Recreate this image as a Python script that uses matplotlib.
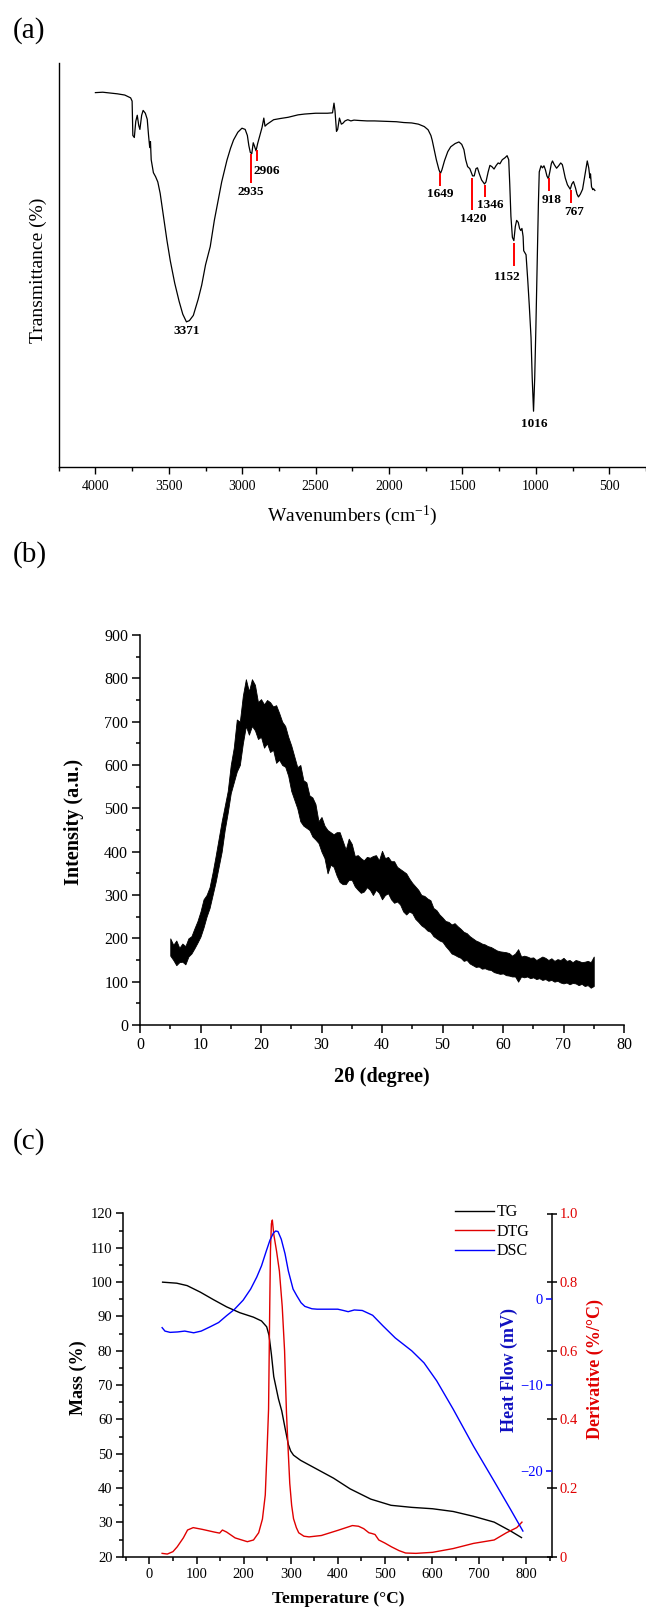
import matplotlib
matplotlib.use('Agg')
import numpy as np
import matplotlib.pyplot as plt
from matplotlib.ticker import MultipleLocator, FuncFormatter

plt.rcParams['font.family'] = ['Liberation Serif', 'DejaVu Serif']
plt.rcParams['mathtext.fontset'] = 'custom'
plt.rcParams['mathtext.rm'] = 'Liberation Serif'
plt.rcParams['mathtext.it'] = 'Liberation Serif:italic'
plt.rcParams['mathtext.bf'] = 'Liberation Serif:bold'

# ---- (a) FTIR spectrum ----
ftir_wn = [4000, 3950, 3900, 3850, 3800, 3760, 3750, 3745, 3735, 3725, 3715, 3705, 3697, 3685, 3675,
           3660, 3647, 3638, 3630, 3625, 3620, 3605, 3590, 3575, 3559, 3536, 3513, 3490, 3460, 3430,
           3405, 3380, 3360, 3333, 3300, 3276, 3250, 3218, 3190, 3172, 3140, 3104, 3080, 3059, 3030,
           3002, 2980, 2965, 2955, 2945, 2935, 2925, 2918, 2906, 2895, 2884, 2865, 2853, 2845, 2830,
           2786, 2740, 2687, 2620, 2575, 2500, 2420, 2385, 2375, 2368, 2358, 2350, 2338, 2325, 2315,
           2300, 2281, 2260, 2239, 2200, 2150, 2100, 2014, 1950, 1900, 1846, 1800, 1760, 1734, 1715,
           1706, 1690, 1678, 1660, 1650, 1640, 1622, 1600, 1580, 1550, 1524, 1505, 1490, 1478, 1465,
           1450, 1431, 1420, 1408, 1398, 1385, 1370, 1350, 1340, 1325, 1313, 1300, 1285, 1270, 1257,
           1245, 1229, 1210, 1196, 1185, 1178, 1170, 1160, 1150, 1140, 1131, 1120, 1111, 1103, 1095,
           1087, 1083, 1075, 1067, 1055, 1045, 1033, 1025, 1016, 1008, 1000, 990, 983, 977, 965,
           955, 945, 935, 925, 915, 905, 895, 887, 875, 859, 845, 831, 820, 814, 800,
           785, 766, 755, 744, 730, 720, 710, 697, 682, 665, 650, 640, 632, 628, 621,
           612, 607, 598]
ftir_t = [92.6, 92.7, 92.5, 92.3, 92.0, 91.3, 90.5, 82.0, 81.5, 85.5, 87.0, 84.5, 83.5, 87.0, 88.2,
          87.5, 86.0, 82.0, 79.0, 80.5, 76.0, 72.8, 71.8, 70.5, 67.7, 61.9, 56.1, 51.0, 45.5, 41.0,
          37.8, 35.9, 36.2, 37.5, 41.5, 45.0, 50.0, 54.5, 61.0, 64.4, 70.5, 75.9, 78.8, 80.9, 82.8,
          83.8, 83.5, 82.0, 79.5, 77.8, 77.5, 80.2, 79.5, 78.2, 80.0, 81.5, 84.0, 86.3, 84.3, 84.8,
          85.9, 86.2, 86.5, 87.1, 87.3, 87.5, 87.5, 87.6, 90.0, 88.0, 83.0, 83.5, 86.3, 84.8, 85.0,
          85.6, 85.9, 85.6, 85.8, 85.7, 85.6, 85.6, 85.5, 85.4, 85.2, 85.1, 84.8, 84.2, 83.4, 82.0,
          80.8, 78.0, 76.0, 73.5, 72.6, 73.5, 75.8, 78.0, 79.2, 80.0, 80.4, 79.8, 78.5, 76.0, 74.3,
          73.8, 72.0, 72.0, 73.8, 74.0, 72.5, 71.0, 70.0, 70.5, 73.0, 74.6, 74.3, 73.7, 74.6, 75.2,
          75.0, 76.0, 76.5, 77.0, 76.0, 70.0, 62.0, 56.8, 56.0, 59.5, 61.0, 60.5, 59.0, 58.5, 59.0,
          57.0, 53.5, 53.0, 52.5, 46.0, 40.0, 32.0, 22.0, 13.8, 22.0, 34.5, 52.0, 65.0, 73.0, 74.5,
          74.0, 74.5, 73.5, 72.0, 71.3, 73.0, 75.0, 75.7, 74.8, 73.9, 74.5, 75.2, 74.8, 73.9, 71.5,
          69.8, 68.7, 70.0, 70.6, 69.0, 67.5, 66.8, 67.5, 68.7, 72.5, 75.7, 74.0, 71.5, 72.5, 69.3,
          68.6, 68.8, 68.4]

peak_labels = ['3371', '2935', '2906', '1649', '1420', '1346', '1152', '1016', '918', '767']
peak_text_x = [3380, 2940, 2836, 1648, 1424, 1310, 1198, 1014, 895, 740]
peak_text_y = [33.6, 68.1, 73.3, 67.5, 61.4, 64.9, 47.0, 10.6, 66.0, 63.0]
mark_x = [2943, 2901, 1650, 1432, 1347, 1150, 910, 762]
mark_lo = [70.3, 75.6, 69.6, 63.5, 66.7, 49.6, 68.3, 65.3]
mark_hi = [77.3, 78.5, 72.7, 71.6, 69.8, 55.4, 71.4, 68.4]

# ---- (b) XRD pattern: upper / lower edge of the noisy trace, every 0.5 degree from 5 to 75 ----
xrd_x = np.arange(5.0, 75.01, 0.5)
xrd_hi = [200, 185, 195, 178, 188, 182, 200, 205, 223, 240,
          262, 290, 300, 318, 352, 390, 430, 470, 505, 540,
          600, 640, 705, 700, 760, 798, 770, 798, 785, 745,
          752, 740, 750, 745, 735, 738, 720, 700, 690, 665,
          645, 620, 595, 600, 565, 560, 530, 525, 510, 470,
          480, 460, 450, 445, 440, 445, 445, 425, 405, 430,
          418, 390, 392, 385, 380, 388, 386, 390, 392, 380,
          402, 385, 388, 378, 378, 365, 360, 355, 350, 338,
          328, 320, 312, 300, 298, 292, 288, 270, 265, 255,
          248, 240, 238, 232, 235, 228, 222, 215, 212, 205,
          200, 195, 192, 188, 186, 182, 180, 176, 172, 170,
          169, 168, 166, 160, 165, 175, 158, 160, 158, 155,
          156, 150, 154, 158, 155, 150, 154, 148, 152, 150,
          155, 148, 150, 145, 150, 148, 145, 146, 148, 145,
          158]
xrd_lo = [160, 150, 138, 145, 146, 140, 158, 165, 177, 190,
          204, 225, 250, 270, 300, 330, 365, 400, 450, 490,
          535, 560, 585, 600, 650, 690, 670, 690, 680, 660,
          665, 640, 650, 630, 635, 605, 612, 600, 596, 575,
          540, 520, 500, 470, 460, 455, 450, 435, 428, 420,
          400, 385, 350, 370, 365, 345, 330, 325, 325, 335,
          335, 320, 312, 305, 308, 318, 312, 300, 312, 305,
          290, 300, 304, 290, 282, 285, 278, 262, 255, 262,
          258, 245, 238, 230, 225, 218, 215, 205, 200, 195,
          192, 182, 174, 165, 162, 158, 155, 148, 150, 142,
          138, 134, 135, 130, 131, 128, 127, 122, 120, 118,
          119, 115, 114, 112, 112, 100, 112, 110, 112, 108,
          110, 106, 108, 104, 106, 102, 104, 100, 102, 98,
          96, 98, 94, 97, 96, 92, 95, 90, 92, 86,
          90]

# ---- (c) TG / DTG / DSC ----
tg_t = [28, 58, 80, 108, 136, 164, 192, 221, 238, 249, 254, 259, 264, 274, 281, 288, 295, 300, 306, 321,
        356, 391, 426, 470, 513, 557, 601, 645, 688, 732, 767, 790]
tg_m = [100, 99.7, 99, 97.1, 94.9, 92.8, 91.1, 89.8, 88.7, 87, 84.5, 79, 72.5, 66, 62.5, 57.5, 52.7, 50.8, 49.6, 48.1,
        45.5, 42.9, 39.8, 36.8, 35, 34.4, 34, 33.2, 31.8, 30.1, 27.5, 25.6]

dtg_t = [27, 38, 50, 59, 72, 81, 93, 112, 138, 149, 155, 164, 182, 208, 221, 232, 240, 246, 250, 253,
         255.5, 257, 259, 261, 264, 270, 276, 282, 287, 291, 295, 298, 302, 306, 312, 317, 328, 339, 365, 400,
         431, 444, 455, 466, 472, 479, 487, 500, 514, 530, 544, 566, 601, 645, 688, 732, 758, 780, 791]
dtg_d = [0.010, 0.008, 0.015, 0.029, 0.055, 0.078, 0.085, 0.080, 0.072, 0.069, 0.078, 0.072, 0.055, 0.044, 0.049,
         0.070, 0.11, 0.18, 0.317, 0.43, 0.729, 0.89, 0.97, 0.981, 0.94, 0.89, 0.832, 0.729, 0.6, 0.42,
         0.3, 0.214, 0.15, 0.111, 0.085, 0.070, 0.060, 0.058, 0.062, 0.077, 0.091, 0.089, 0.082, 0.070, 0.068,
         0.065, 0.049, 0.040, 0.029, 0.018, 0.011, 0.010, 0.013, 0.024, 0.039, 0.049, 0.070, 0.085, 0.101]

dsc_t = [27, 33, 44, 60, 75, 94, 110, 129, 147, 164, 180, 199, 215, 228, 238, 248, 256, 263, 268, 273,
         280, 288, 295, 305, 313, 322, 330, 345, 356, 380, 400, 412, 422, 435, 452, 474, 496, 522, 557, 583,
         610, 645, 688, 732, 767, 793]
dsc_h = [-3.3, -3.7, -3.85, -3.8, -3.7, -3.9, -3.7, -3.2, -2.7, -1.9, -1.2, -0.1, 1.2, 2.6, 3.9, 5.6, 6.9, 7.7, 7.96, 7.9,
         7.0, 5.3, 3.3, 1.2, 0.41, -0.4, -0.82, -1.1, -1.15, -1.15, -1.15, -1.3, -1.44, -1.24, -1.3, -1.86, -3.1, -4.5, -6.0, -7.4,
         -9.5, -12.8, -17.1, -21.2, -24.5, -27.0]

RED = '#e00000'
BLUE = '#0000ff'

W, H = 646, 1614
fig = plt.figure(figsize=(W / 100, H / 100), dpi=100)


def box(l, t, r, b):
    # pixel box -> figure fraction
    return [l / W, 1 - b / H, (r - l) / W, (b - t) / H]


# ---------------- (a) ----------------
ax = fig.add_axes(box(58.7, 62.7, 646, 467))
ax.plot(ftir_wn, ftir_t, color='black', lw=0.9)
ax.vlines(mark_x, mark_lo, mark_hi, color='red', lw=1.4)
for lab, tx, ty in zip(peak_labels, peak_text_x, peak_text_y):
    ax.text(tx, ty, lab, ha='center', va='center', fontsize=9.5, fontweight='bold')
ax.set_xlim(4250, 250)
ax.set_ylim(0, 100)
for s in ['top', 'right']:
    ax.spines[s].set_visible(False)
ax.spines['left'].set_linewidth(1.0)
ax.spines['bottom'].set_linewidth(1.0)
ax.set_yticks([])
ax.xaxis.set_major_locator(MultipleLocator(500))
ax.xaxis.set_minor_locator(MultipleLocator(250))
ax.tick_params(axis='x', which='major', direction='out', length=5, width=1, labelsize=10, pad=4)
ax.tick_params(axis='x', which='minor', direction='out', length=3, width=1)
ax.set_xlabel('Wavenumbers (cm$^{-1}$)', fontsize=14, va='center')
ax.xaxis.set_label_coords(0.5, -0.122)
ax.set_ylabel('Transmittance (%)', fontsize=14, va='center')
ax.yaxis.set_label_coords(-0.035, 0.487)
fig.text(13 / W, 1 - 31 / H, '(a)', fontsize=21, ha='left', va='center')

# ---------------- (b) ----------------
ax = fig.add_axes(box(140, 635, 624, 1025))
ax.fill_between(xrd_x, xrd_lo, xrd_hi, color='black', lw=0.6)
ax.set_xlim(0, 80)
ax.set_ylim(0, 900)
for s in ['top', 'right']:
    ax.spines[s].set_visible(False)
ax.spines['left'].set_linewidth(1.1)
ax.spines['bottom'].set_linewidth(1.1)
ax.xaxis.set_major_locator(MultipleLocator(10))
ax.xaxis.set_minor_locator(MultipleLocator(5))
ax.yaxis.set_major_locator(MultipleLocator(100))
ax.yaxis.set_minor_locator(MultipleLocator(50))
ax.tick_params(which='major', direction='out', length=5.5, width=1.1, labelsize=11.5, pad=3)
ax.tick_params(which='minor', direction='out', length=3, width=1.1)
ax.set_xlabel('2θ (degree)', fontsize=14.5, fontweight='bold', va='center')
ax.xaxis.set_label_coords(0.499, -0.133)
ax.set_ylabel('Intensity (a.u.)', fontsize=14.5, fontweight='bold', va='center')
ax.yaxis.set_label_coords(-0.136, 0.52)
fig.text(13 / W, 1 - 555 / H, '(b)', fontsize=21, ha='left', va='center')

# ---------------- (c) ----------------
ax = fig.add_axes(box(123.5, 1213.5, 552.1, 1556.8))
l1, = ax.plot(tg_t, tg_m, color='black', lw=1.0, label='TG')
ax.set_xlim(-55, 855)
ax.set_ylim(20, 120)
for s in ['top', 'right']:
    ax.spines[s].set_visible(False)
ax.spines['left'].set_linewidth(1.1)
ax.spines['bottom'].set_linewidth(1.1)
ax.xaxis.set_major_locator(MultipleLocator(100))
ax.xaxis.set_minor_locator(MultipleLocator(50))
ax.yaxis.set_major_locator(MultipleLocator(10))
ax.yaxis.set_minor_locator(MultipleLocator(5))
ax.tick_params(which='major', direction='out', length=5, width=1.1, labelsize=10.5, pad=3)
ax.tick_params(which='minor', direction='out', length=3, width=1.1)
ax.set_xlabel('Temperature (°C)', fontsize=12.5, fontweight='bold', va='center')
ax.xaxis.set_label_coords(0.502, -0.124)
ax.set_ylabel('Mass (%)', fontsize=13, fontweight='bold', va='center')
ax.yaxis.set_label_coords(-0.105, 0.522)

axd = ax.twinx()
l2, = axd.plot(dtg_t, dtg_d, color=RED, lw=1.0, label='DTG')
axd.set_ylim(0, 1.0)
for s in ['top', 'left', 'bottom']:
    axd.spines[s].set_visible(False)
axd.spines['right'].set_linewidth(1.1)
axd.yaxis.set_major_locator(MultipleLocator(0.2))
axd.yaxis.set_major_formatter(FuncFormatter(lambda v, p: '0' if abs(v) < 1e-9 else f'{v:.1f}'))
axd.tick_params(axis='y', direction='inout', length=7, width=1.1, labelsize=10.5, pad=2,
                labelcolor=RED, color='black')
axd.set_ylabel('Derivative (%/°C)', fontsize=13, fontweight='bold', color=RED, va='center')
axd.yaxis.set_label_coords(1.101, 0.548)

axh = ax.twinx()
l3, = axh.plot(dsc_t, dsc_h, color=BLUE, lw=1.0, label='DSC')
axh.set_ylim(-30, 10)
for s in axh.spines.values():
    s.set_visible(False)
axh.spines['left'].set_position(('axes', 1.0))
axh.yaxis.set_ticks_position('left')
axh.yaxis.set_label_position('left')
axh.set_yticks([0, -10, -20])
axh.tick_params(axis='y', direction='out', length=4.5, width=1.1, labelsize=10.5, pad=2,
                labelcolor=BLUE, color=BLUE)
axh.set_ylabel('Heat Flow (mV)', fontsize=13, fontweight='bold', color='#1010c0', va='center')
axh.yaxis.set_label_coords(0.901, 0.543)

axh.legend(handles=[l1, l2, l3], loc='upper left', bbox_to_anchor=(0.774, 1.027), frameon=False,
           fontsize=11.5, handlelength=2.4, handletextpad=0.2, labelspacing=0.22,
           borderpad=0, borderaxespad=0)

fig.text(13 / W, 1 - 1142 / H, '(c)', fontsize=21, ha='left', va='center')

fig.savefig('out.png', dpi=100)
